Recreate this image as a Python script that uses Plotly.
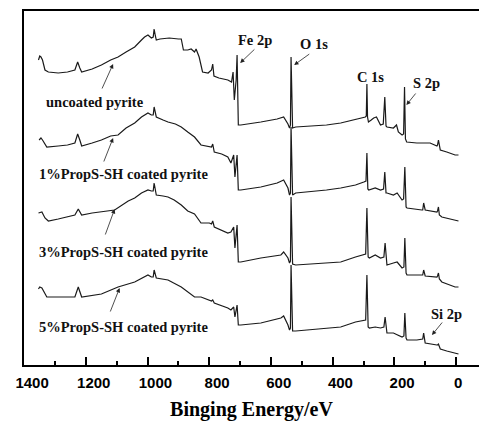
import plotly.graph_objects as go

# ---- data (binding energy in eV, intensity in a.u., stacked) ----
energy_uncoated = [1354, 1350, 1346, 1341, 1333, 1322, 1290, 1260, 1236, 1227, 1220, 1214, 1180, 1150, 1120, 1096,
                   1070, 1042, 1020, 1010, 999, 988, 982, 979, 975, 972, 960, 930, 900, 891, 884, 870, 859, 848, 843,
                   833, 822, 804, 793, 789, 785, 769, 740, 728, 723, 719, 713, 710, 706, 698, 633, 580, 559, 545, 540,
                   537, 535, 532, 530, 520, 480, 420, 374, 330, 309, 294, 291, 289, 287, 284, 275, 267, 258, 245, 236,
                   231, 227, 224, 203, 193, 187, 175, 170, 167, 164, 160, 127, 84, 62, 60, 57, 54, 51, 30, 3, -8]
intensity_uncoated = [305, 309, 308, 305, 295, 293, 292, 293, 295, 303, 297, 293, 296, 300, 305, 308,
                      313, 318, 325, 328, 330, 327, 328, 336, 329, 325, 326, 327, 326, 326, 315, 315, 316, 313, 316,
                      308, 293, 292, 295, 301, 289, 287, 285, 283, 293, 265, 285, 310, 240, 240, 243, 246, 248, 241, 237,
                      240, 308, 240, 237, 238, 239, 240, 242, 245, 247, 248, 249, 281, 248, 243, 245, 247, 248, 240, 241,
                      268, 239, 238, 237, 240, 233, 230, 231, 278, 226, 223, 222, 222, 219, 220, 225, 217, 215, 213, 210, 210]

energy_1pct = [1352, 1346, 1341, 1327, 1290, 1260, 1236, 1227, 1220, 1214, 1180, 1150, 1120, 1096, 1070,
               1042, 1020, 999, 988, 982, 979, 975, 972, 950, 934, 910, 891, 870, 848, 827, 800, 793, 789, 784,
               760, 740, 730, 721, 717, 713, 710, 706, 698, 633, 580, 559, 545, 540, 537, 535, 532, 530, 520,
               480, 420, 374, 326, 299, 292, 289, 286, 283, 267, 262, 245, 235, 231, 227, 224, 203, 191, 175,
               170, 166, 162, 159, 111, 108, 105, 102, 100, 62, 60, 57, 54, 46, 3, -8]
intensity_1pct = [225, 227, 225, 218, 219, 220, 222, 231, 225, 219, 222, 225, 229, 230, 237,
                  242, 248, 252, 250, 250, 258, 251, 248, 245, 243, 241, 238, 233, 228, 220, 219, 218, 221, 213,
                  211, 208, 202, 210, 188, 200, 210, 175, 175, 178, 182, 185, 177, 170, 172, 238, 172, 170, 172,
                  173, 175, 177, 180, 183, 184, 212, 176, 175, 176, 177, 175, 176, 193, 172, 172, 170, 172, 165,
                  166, 198, 158, 157, 155, 155, 162, 155, 155, 153, 154, 158, 150, 148, 145, 144]

energy_3pct = [1354, 1343, 1333, 1322, 1290, 1260, 1236, 1225, 1214, 1180, 1150, 1107, 1063, 1042, 1020,
               999, 988, 982, 979, 975, 972, 950, 934, 914, 891, 870, 848, 827, 800, 793, 789, 784, 760, 740,
               730, 721, 717, 713, 710, 706, 698, 633, 568, 559, 545, 540, 537, 535, 532, 530, 520, 480, 420,
               374, 326, 299, 293, 289, 285, 281, 262, 245, 234, 230, 226, 224, 203, 191, 175, 169, 166, 162,
               159, 111, 108, 105, 102, 100, 62, 60, 57, 54, 46, 3, -8]
intensity_3pct = [152, 153, 147, 144, 146, 148, 150, 156, 150, 152, 153, 155, 164, 167, 172,
                  175, 174, 174, 182, 174, 170, 169, 168, 165, 160, 154, 151, 142, 142, 141, 144, 138, 135, 132,
                  133, 138, 117, 130, 140, 103, 103, 107, 110, 113, 107, 102, 104, 168, 104, 101, 100, 101, 102,
                  103, 108, 110, 111, 157, 108, 107, 110, 107, 108, 122, 101, 100, 102, 103, 97, 98, 127, 92,
                  90, 90, 90, 95, 90, 89, 88, 89, 92, 86, 83, 78, 78]

energy_5pct = [1354, 1350, 1343, 1327, 1290, 1236, 1225, 1214, 1150, 1096, 1042, 1010, 999, 988, 982, 979,
               975, 972, 934, 891, 848, 827, 793, 789, 784, 740, 730, 721, 717, 713, 710, 706, 698, 633, 568,
               559, 545, 540, 537, 535, 532, 530, 520, 480, 374, 326, 300, 293, 289, 285, 281, 262, 245, 234,
               230, 226, 224, 203, 175, 169, 166, 162, 159, 127, 108, 105, 102, 100, 62, 60, 57, 54, 51, 30, -8]
intensity_5pct = [76, 78, 77, 68, 68, 68, 78, 68, 71, 78, 83, 88, 90, 88, 88, 95,
                  89, 87, 85, 78, 68, 68, 64, 65, 62, 57, 55, 58, 48, 55, 60, 40, 40, 42, 47,
                  49, 40, 35, 37, 100, 36, 34, 34, 35, 38, 43, 44, 45, 90, 38, 37, 38, 37, 38,
                  48, 33, 32, 32, 28, 29, 52, 27, 25, 25, 26, 32, 24, 22, 20, 20, 21, 18, 16, 14, 11]

series = [
    (energy_uncoated, intensity_uncoated, "uncoated pyrite"),
    (energy_1pct, intensity_1pct, "1%PropS-SH coated pyrite"),
    (energy_3pct, intensity_3pct, "3%PropS-SH coated pyrite"),
    (energy_5pct, intensity_5pct, "5%PropS-SH coated pyrite"),
]

tick_values = [1400, 1200, 1000, 800, 600, 400, 200, 0]
tick_labels = ["1400", "1200", "1000", "800", "600", "400", "200", "0"]
minor_tick_values = [1300, 1100, 900, 700, 500, 300, 100]

# curve labels: (text, text_x, text_y, arrow_tail_x, arrow_tail_y, arrow_head_x, arrow_head_y)
curve_labels = [
    ("uncoated pyrite", 1172, 263, 1150, 275, 1112, 301),
    ("1%PropS-SH coated pyrite", 1079, 191, 1144, 202, 1112, 227),
    ("3%PropS-SH coated pyrite", 1079, 113, 1139, 129, 1107, 156),
    ("5%PropS-SH coated pyrite", 1079, 38, 1123, 52, 1091, 77),
]
peak_labels = [
    ("Fe 2p", 652, 325, 649, 317, 700, 302),
    ("O 1s", 462, 321, 471, 312, 525, 300),
    ("C 1s", 278, 288, None, None, None, None),
    ("S 2p", 97, 282, 127, 273, 161, 260),
    ("Si 2p", 30, 51, 41, 44, 78, 30),
]

fig = go.Figure()
for e, i, name in series:
    fig.add_trace(go.Scatter(x=e, y=i, mode="lines", name=name,
                             line=dict(color="#1a1a1a", width=1.2), showlegend=False))

serif = "Times New Roman, Liberation Serif, serif"
annotations = []
for text, tx, ty, ax, ay, hx, hy in curve_labels + peak_labels:
    annotations.append(dict(x=tx, y=ty, xref="x", yref="y", text=text, showarrow=False,
                            font=dict(family=serif, size=14.5, color="#111", weight="bold")))
    if ax is not None:
        annotations.append(dict(x=hx, y=hy, xref="x", yref="y", ax=ax, ay=ay, axref="x", ayref="y",
                                text="", showarrow=True, arrowhead=2, arrowsize=1.1, arrowwidth=0.8,
                                arrowcolor="#222", standoff=0))

nb = "\u00a0"
shifted = [(nb * 3 + "\u2009" + t) if t != "0" else (nb + t) for t in tick_labels]

fig.update_layout(
    width=479, height=425,
    margin=dict(l=22, r=0, t=11, b=60),
    paper_bgcolor="white", plot_bgcolor="white",
    annotations=annotations,
    xaxis=dict(
        range=[1401, -74.5], showgrid=False, zeroline=False,
        showline=True, linecolor="black", linewidth=2, mirror=True,
        tickmode="array", tickvals=tick_values, ticktext=shifted,
        ticks="inside", ticklen=8, tickwidth=2, tickcolor="black",
        minor=dict(tickmode="array", tickvals=minor_tick_values,
                   ticks="inside", ticklen=4, tickwidth=2, tickcolor="black"),
        tickfont=dict(family="Arial, Liberation Sans, sans-serif", size=15, color="black", weight="bold"),
        ticklabelstandoff=3, ticklabeloverflow="allow",
        title=dict(text="Binging Energy/eV", standoff=12,
                   font=dict(family=serif, size=20, color="black", weight="bold")),
    ),
    yaxis=dict(
        range=[0, 354], showgrid=False, zeroline=False,
        showline=True, linecolor="black", linewidth=2, mirror=False,
        showticklabels=False, ticks="",
    ),
)

fig.write_html("out.html")
